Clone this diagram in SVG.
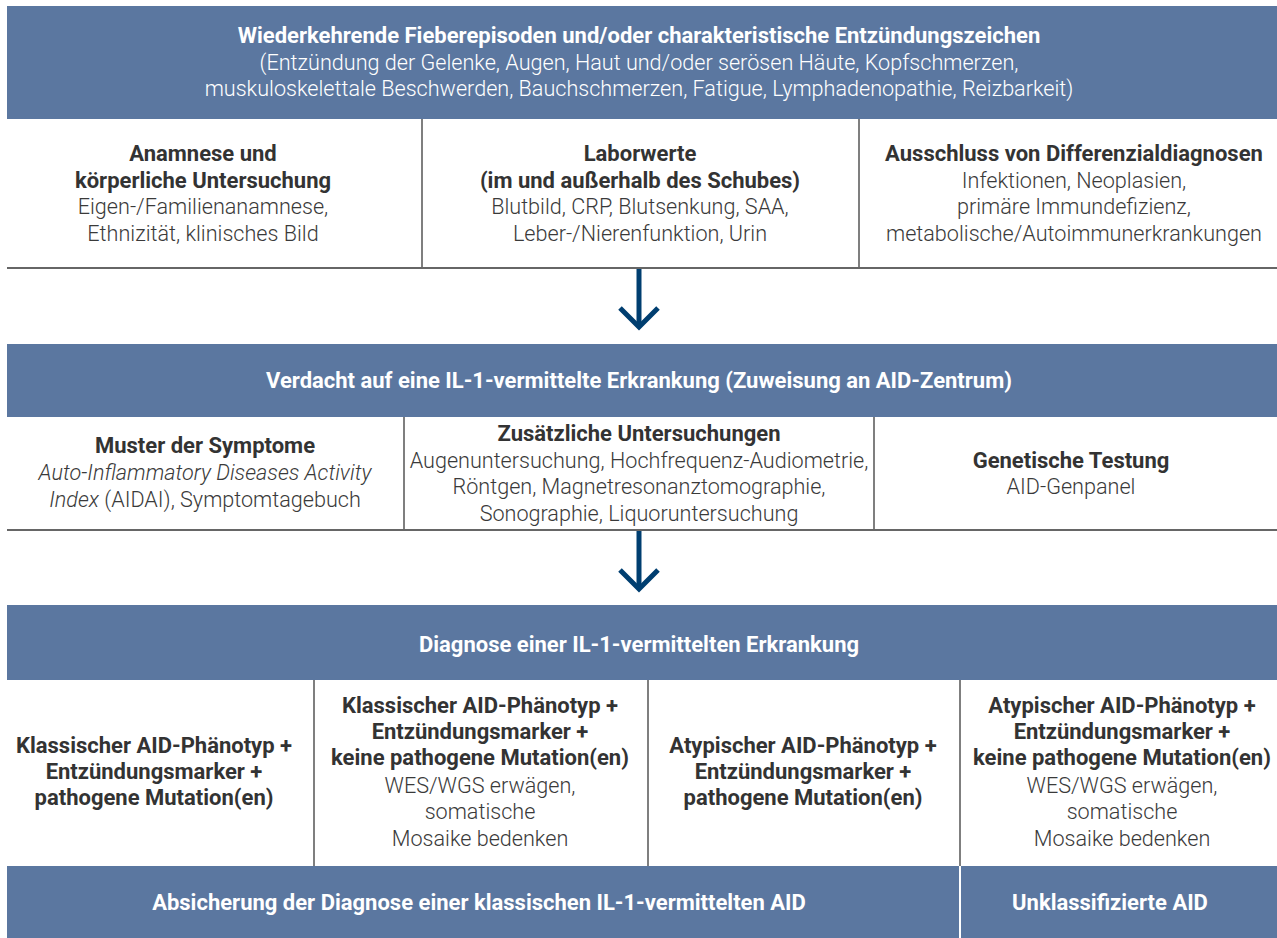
<svg xmlns="http://www.w3.org/2000/svg" width="1277" height="938" viewBox="0 0 1277 938">
<style>
  .band { fill: #5b77a0; }
  .bt { font-family: Roboto, "Liberation Sans", sans-serif; font-size: 22px; font-weight: 700; fill: #ffffff; text-anchor: middle; }
  .bl { font-family: Roboto, "Liberation Sans", sans-serif; font-size: 21.6px; font-weight: 300; fill: #ffffff; text-anchor: middle; }
  .h { font-family: Roboto, "Liberation Sans", sans-serif; font-size: 22px; font-weight: 700; fill: #333333; text-anchor: middle; }
  .t { font-family: Roboto, "Liberation Sans", sans-serif; font-size: 21.6px; font-weight: 300; fill: #3a3a3a; text-anchor: middle; }
  .vd { stroke: #555555; stroke-width: 1.5; }
  .hd { stroke: #666666; stroke-width: 2; }
  .arrow { fill: none; stroke: #003e70; stroke-width: 5; stroke-linejoin: miter; }
</style>
<rect width="1277" height="938" fill="#ffffff"/>

<g id="top-banner">
  <rect class="band" x="7" y="6" width="1270" height="113"/>
  <text class="bt" x="639" y="43">Wiederkehrende Fieberepisoden und/oder charakteristische Entzündungszeichen</text>
  <text class="bl" x="639" y="70">(Entzündung der Gelenke, Augen, Haut und/oder serösen Häute, Kopfschmerzen,</text>
  <text class="bl" x="639" y="96">muskuloskelettale Beschwerden, Bauchschmerzen, Fatigue, Lymphadenopathie, Reizbarkeit)</text>
</g>

<g id="anamnese">
  <text class="h" x="203" y="161">Anamnese und</text>
  <text class="h" x="203" y="188">körperliche Untersuchung</text>
  <text class="t" x="203" y="214">Eigen-/Familienanamnese,</text>
  <text class="t" x="203" y="241">Ethnizität, klinisches Bild</text>
</g>
<g id="laborwerte">
  <text class="h" x="640" y="161">Laborwerte</text>
  <text class="h" x="640" y="188">(im und außerhalb des Schubes)</text>
  <text class="t" x="640" y="214">Blutbild, CRP, Blutsenkung, SAA,</text>
  <text class="t" x="640" y="241">Leber-/Nierenfunktion, Urin</text>
</g>
<g id="ausschluss">
  <text class="h" x="1074" y="161">Ausschluss von Differenzialdiagnosen</text>
  <text class="t" x="1074" y="188">Infektionen, Neoplasien,</text>
  <text class="t" x="1074" y="214">primäre Immundefizienz,</text>
  <text class="t" x="1074" y="241">metabolische/Autoimmunerkrankungen</text>
</g>

<g id="verdacht-banner">
  <rect class="band" x="7" y="344" width="1270" height="73"/>
  <text class="bt" x="639" y="388">Verdacht auf eine IL-1-vermittelte Erkrankung (Zuweisung an AID-Zentrum)</text>
</g>

<g id="muster">
  <text class="h" x="205" y="453">Muster der Symptome</text>
  <text class="t" x="205" y="480" font-style="italic">Auto-Inflammatory Diseases Activity</text>
  <text class="t" x="205" y="507"><tspan font-style="italic">Index</tspan> (AIDAI), Symptomtagebuch</text>
</g>
<g id="zusaetzliche">
  <text class="h" x="639" y="441">Zusätzliche Untersuchungen</text>
  <text class="t" x="639" y="468">Augenuntersuchung, Hochfrequenz-Audiometrie,</text>
  <text class="t" x="639" y="494">Röntgen, Magnetresonanztomographie,</text>
  <text class="t" x="639" y="521">Sonographie, Liquoruntersuchung</text>
</g>
<g id="genetische">
  <text class="h" x="1071" y="468">Genetische Testung</text>
  <text class="t" x="1071" y="494">AID-Genpanel</text>
</g>

<g id="diagnose-banner">
  <rect class="band" x="7" y="605" width="1270" height="75"/>
  <text class="bt" x="639" y="652">Diagnose einer IL-1-vermittelten Erkrankung</text>
</g>

<g id="klassisch-pathogen">
  <text class="h" x="154" y="753">Klassischer AID-Phänotyp +</text>
  <text class="h" x="154" y="779">Entzündungsmarker +</text>
  <text class="h" x="154" y="805">pathogene Mutation(en)</text>
</g>
<g id="klassisch-keine">
  <text class="h" x="480" y="713">Klassischer AID-Phänotyp +</text>
  <text class="h" x="480" y="739">Entzündungsmarker +</text>
  <text class="h" x="480" y="765">keine pathogene Mutation(en)</text>
  <text class="t" x="480" y="793">WES/WGS erwägen,</text>
  <text class="t" x="480" y="819">somatische</text>
  <text class="t" x="480" y="846">Mosaike bedenken</text>
</g>
<g id="atypisch-pathogen">
  <text class="h" x="803" y="753">Atypischer AID-Phänotyp +</text>
  <text class="h" x="803" y="779">Entzündungsmarker +</text>
  <text class="h" x="803" y="805">pathogene Mutation(en)</text>
</g>
<g id="atypisch-keine">
  <text class="h" x="1122" y="713">Atypischer AID-Phänotyp +</text>
  <text class="h" x="1122" y="739">Entzündungsmarker +</text>
  <text class="h" x="1122" y="765">keine pathogene Mutation(en)</text>
  <text class="t" x="1122" y="793">WES/WGS erwägen,</text>
  <text class="t" x="1122" y="819">somatische</text>
  <text class="t" x="1122" y="846">Mosaike bedenken</text>
</g>

<g id="absicherung">
  <rect class="band" x="7" y="866" width="952" height="72"/>
  <text class="bt" x="479" y="910">Absicherung der Diagnose einer klassischen IL-1-vermittelten AID</text>
</g>
<g id="unklassifiziert">
  <rect class="band" x="961" y="866" width="316" height="72"/>
  <text class="bt" x="1110" y="910">Unklassifizierte AID</text>
</g>

<g id="dividers">
  <line class="vd" x1="422" y1="119" x2="422" y2="268"/>
  <line class="vd" x1="859" y1="119" x2="859" y2="268"/>
  <line class="hd" x1="7" y1="268" x2="1277" y2="268"/>
  <line class="vd" x1="404" y1="417" x2="404" y2="530"/>
  <line class="vd" x1="874" y1="417" x2="874" y2="530"/>
  <line class="hd" x1="7" y1="530" x2="1277" y2="530"/>
  <line class="vd" x1="314" y1="680" x2="314" y2="866"/>
  <line class="vd" x1="648" y1="680" x2="648" y2="866"/>
  <line class="vd" x1="960" y1="680" x2="960" y2="866"/>
</g>

<g id="connectors">
  <line class="arrow" x1="639" y1="269" x2="639" y2="326"/>
  <polyline class="arrow" points="620,308 639,327 658,308"/>
  <line class="arrow" x1="639" y1="531" x2="639" y2="588"/>
  <polyline class="arrow" points="620,570 639,589 658,570"/>
</g>
</svg>
